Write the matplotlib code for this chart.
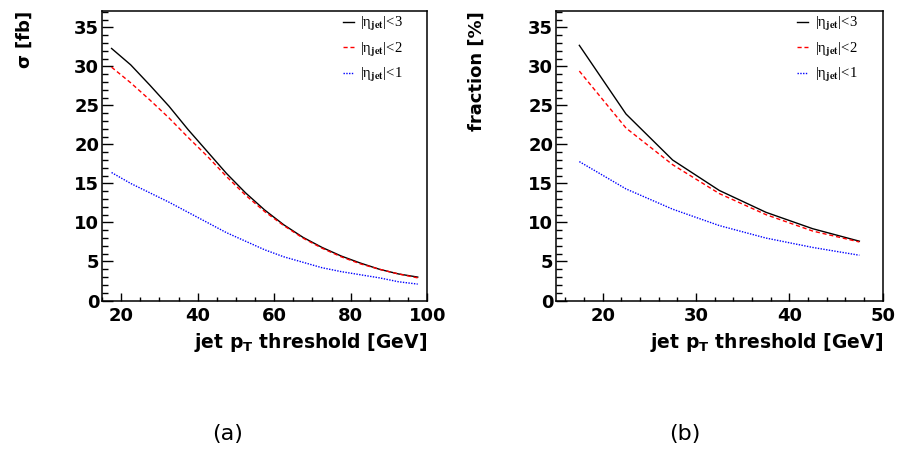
import matplotlib
matplotlib.use("Agg")
import matplotlib.pyplot as plt
from matplotlib.ticker import MultipleLocator
from matplotlib.font_manager import FontProperties

plt.rcParams['font.family'] = ['DejaVu Sans']
plt.rcParams['mathtext.fontset'] = 'dejavusans'

# ---- data ----
pt_a = [17.5, 22.5, 27.5, 32.5, 37.5, 42.5, 47.5, 52.5, 57.5, 62.5, 67.5, 72.5, 77.5, 82.5, 87.5, 92.5, 97.5]
sigma_eta3 = [32.3, 30.2, 27.6, 24.9, 21.9, 19.1, 16.3, 13.8, 11.6, 9.7, 8.1, 6.8, 5.7, 4.8, 4.0, 3.4, 3.0]
sigma_eta2 = [29.9, 27.9, 25.7, 23.4, 20.9, 18.5, 15.9, 13.5, 11.4, 9.6, 8.0, 6.7, 5.6, 4.7, 4.0, 3.4, 2.9]
sigma_eta1 = [16.4, 15.0, 13.8, 12.6, 11.3, 10.0, 8.7, 7.6, 6.5, 5.6, 4.9, 4.2, 3.7, 3.3, 2.9, 2.4, 2.1]

pt_b = [17.5, 22.5, 27.5, 32.5, 37.5, 42.5, 47.5]
frac_eta3 = [32.7, 23.9, 18.0, 14.1, 11.3, 9.2, 7.6]
frac_eta2 = [29.4, 22.1, 17.4, 13.7, 11.0, 8.9, 7.5]
frac_eta1 = [17.8, 14.3, 11.7, 9.6, 8.0, 6.8, 5.8]

labels = [r'|η$_{\mathbf{jet}}$|<3', r'|η$_{\mathbf{jet}}$|<2', r'|η$_{\mathbf{jet}}$|<1']

W, H = 898, 449
fig = plt.figure(figsize=(W / 100, H / 100), dpi=100)

AX_TOP, AX_BOT = 11, 300.5

def make_ax(left, right):
    return fig.add_axes([left / W, (H - AX_BOT) / H, (right - left) / W, (AX_BOT - AX_TOP) / H])

axa = make_ax(102, 427.3)
axb = make_ax(556, 882.7)

def style(ax, xlim, xmaj, xmin, ylabel, ylab_right_px):
    ax.set_xlim(*xlim)
    ax.set_ylim(0, 37.1)
    ax.xaxis.set_major_locator(MultipleLocator(xmaj))
    ax.xaxis.set_minor_locator(MultipleLocator(xmin))
    ax.yaxis.set_major_locator(MultipleLocator(5))
    ax.yaxis.set_minor_locator(MultipleLocator(1))
    ax.tick_params(which='both', direction='in', top=False, right=False, width=1.0)
    ax.tick_params(axis='y', which='major', length=8, pad=2)
    ax.tick_params(axis='y', which='minor', length=4)
    ax.tick_params(axis='x', which='major', length=6, pad=5)
    ax.tick_params(axis='x', which='minor', length=3)
    ax.tick_params(which='major', labelsize=13)
    for lab in ax.get_xticklabels() + ax.get_yticklabels():
        lab.set_fontweight('bold')
    for s in ax.spines.values():
        s.set_linewidth(1.1)
    ax.set_xlabel(r'jet p$_{\mathbf{T}}$ threshold [GeV]', loc='right', fontsize=13.5, fontweight='bold')
    ax.set_ylabel(ylabel, loc='top', fontsize=13, fontweight='bold')
    axw = ax.get_position().width * W
    ax.xaxis.set_label_coords(1.0, -(331 - AX_BOT) / (AX_BOT - AX_TOP))
    ax.xaxis.label.set_va('top')
    ax.yaxis.set_label_coords(-ylab_right_px / axw, 1.0)

leg_font = FontProperties(family='Liberation Serif', size=10.5, math_fontfamily='stix')

def draw(ax, x, y3, y2, y1, anchor_x):
    ax.plot(x, y3, color='black', lw=1.0, ls='-', label=labels[0])
    ax.plot(x, y2, color='red', lw=1.0, ls=(0, (3, 2)), label=labels[1])
    ax.plot(x, y1, color='blue', lw=1.0, ls=(0, (1, 1)), label=labels[2])
    ax.legend(loc='upper right', frameon=False, handlelength=0.75, handletextpad=0.45,
              labelspacing=0.5, prop=leg_font,
              borderaxespad=0, borderpad=0, bbox_to_anchor=(anchor_x, 0.985))

draw(axa, pt_a, sigma_eta3, sigma_eta2, sigma_eta1, 1 - 24 / 325.3)
draw(axb, pt_b, frac_eta3, frac_eta2, frac_eta1, 1 - 25 / 326.7)
style(axa, (15, 100), 20, 5, r'$\mathbf{\sigma}$ [fb]', 102 - 34)
style(axb, (15, 50), 10, 2, 'fraction [%]', 556 - 486)

fig.text(228 / W, 1 - 434 / H, '(a)', ha='center', va='center', fontsize=16)
fig.text(685 / W, 1 - 434 / H, '(b)', ha='center', va='center', fontsize=16)

fig.savefig('out.png', dpi=100)
